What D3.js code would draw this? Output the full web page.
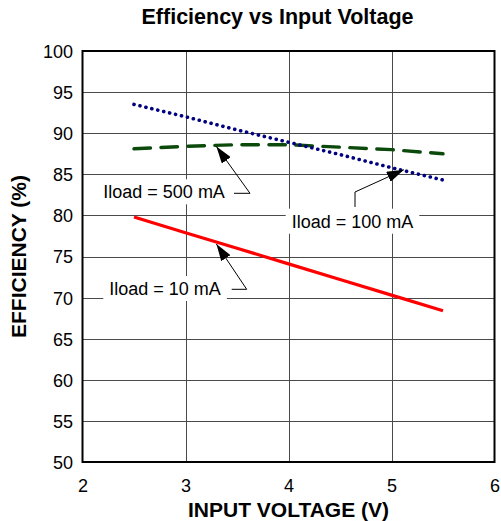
<!DOCTYPE html>
<html>
<head>
<meta charset="utf-8">
<script src="https://cdn.jsdelivr.net/npm/d3@7"></script>
<style>
  body { margin: 0; background: #fff; }
  text { font-family: Arial, "Liberation Sans", sans-serif; }
</style>
</head>
<body>
<div id="chart"></div>
<script>
// input voltage (V)
const voltage = [2.5, 3.0, 3.5, 4.0, 4.5, 5.0, 5.5];
// efficiency (%) per load current
const eff10mA  = [79.8, 77.9, 76.0, 74.1, 72.2, 70.3, 68.4];
const eff100mA = [93.5, 92.0, 90.4, 88.9, 87.4, 85.8, 84.3];
const eff500mA = [88.1, 88.4, 88.6, 88.6, 88.3, 88.0, 87.5];
const xTicks = [2, 3, 4, 5, 6];
const yTicks = [50, 55, 60, 65, 70, 75, 80, 85, 90, 95, 100];

const width = 501, height = 521;
const margin = { top: 51, right: 6.5, bottom: 59, left: 82.5 };
const innerW = width - margin.left - margin.right;
const innerH = height - margin.top - margin.bottom;

const svg = d3.select("#chart")
    .append("svg")
    .attr("width", width)
    .attr("height", height);

const x = d3.scaleLinear().domain([2, 6]).range([margin.left, margin.left + innerW]);
const y = d3.scaleLinear().domain([50, 100]).range([margin.top + innerH, margin.top]);

// Title
svg.append("text")
    .attr("x", 277.5)
    .attr("y", 23.5)
    .attr("text-anchor", "middle")
    .style("font-size", "21.5px")
    .style("font-weight", "bold")
    .text("Efficiency vs Input Voltage");

// Grid
const grid = svg.append("g");
grid.selectAll("line.h")
    .data(yTicks.slice(1, -1))
    .enter()
    .append("line")
    .attr("x1", margin.left).attr("x2", margin.left + innerW)
    .attr("y1", d => Math.round(y(d)) + 0.5).attr("y2", d => Math.round(y(d)) + 0.5)
    .attr("stroke", "#4a4a4a")
    .attr("stroke-width", 1);
grid.selectAll("line.v")
    .data(xTicks.slice(1, -1))
    .enter()
    .append("line")
    .attr("x1", d => Math.round(x(d)) + 0.5).attr("x2", d => Math.round(x(d)) + 0.5)
    .attr("y1", margin.top).attr("y2", margin.top + innerH)
    .attr("stroke", "#4a4a4a")
    .attr("stroke-width", 1);

// Axes (labels only, frame drawn below)
const xAxis = svg.append("g")
    .attr("transform", `translate(0, ${margin.top + innerH})`)
    .call(d3.axisBottom(x).tickValues(xTicks).tickSize(0).tickPadding(0).tickFormat(d3.format("d")));
xAxis.select(".domain").remove();
xAxis.selectAll("text")
    .attr("y", 29.5).attr("dy", null)
    .style("font-size", "18px")
    .style("font-family", "Arial, 'Liberation Sans', sans-serif")
    .attr("fill", "#000");

const yAxis = svg.append("g")
    .attr("transform", `translate(${margin.left}, 0)`)
    .call(d3.axisLeft(y).tickValues(yTicks).tickSize(0).tickPadding(9.5).tickFormat(d3.format("d")));
yAxis.select(".domain").remove();
yAxis.selectAll("text")
    .attr("dy", "0.36em")
    .style("font-size", "18px")
    .style("font-family", "Arial, 'Liberation Sans', sans-serif")
    .attr("fill", "#000");

// Axis titles
svg.append("text")
    .attr("x", margin.left + innerW / 2)
    .attr("y", 516.5)
    .attr("text-anchor", "middle")
    .style("font-size", "21px")
    .style("font-weight", "bold")
    .text("INPUT VOLTAGE (V)");

svg.append("text")
    .attr("transform", `translate(26, ${margin.top + innerH / 2}) rotate(-90)`)
    .attr("text-anchor", "middle")
    .style("font-size", "21px")
    .style("font-weight", "bold")
    .text("EFFICIENCY (%)");

// Series
const series = [
    { name: "10 mA", values: eff10mA, color: "#ff0000", width: 3.2, dash: null, cap: "butt" },
    { name: "500 mA", values: eff500mA, color: "#0b4a0b", width: 3.4, dash: "16.5 10.5", cap: "round" },
    { name: "100 mA", values: eff100mA, color: "#000080", width: 3.6, dash: "0.1 6", cap: "round" }
];

const line = d3.line()
    .x(d => x(d[0]))
    .y(d => y(d[1]));

svg.selectAll("path.series")
    .data(series)
    .enter()
    .append("path")
    .attr("class", "series")
    .attr("d", s => line(voltage.map((v, i) => [v, s.values[i]])))
    .attr("fill", "none")
    .attr("stroke", s => s.color)
    .attr("stroke-width", s => s.width)
    .attr("stroke-dasharray", s => s.dash)
    .attr("stroke-linecap", s => s.cap);

// Arrowhead
svg.append("defs").append("marker")
    .attr("id", "arrow")
    .attr("markerUnits", "userSpaceOnUse")
    .attr("viewBox", "0 0 17 11")
    .attr("refX", 17).attr("refY", 5.5)
    .attr("markerWidth", 17).attr("markerHeight", 11)
    .attr("orient", "auto")
    .append("path")
    .attr("d", "M0,0 L17,5.5 L0,11 Z")
    .attr("fill", "#000");

// Annotations: text position (px) and leader path ending on the curve
const notes = [
    { label: "Iload = 500 mA", tx: 103.3, ty: 198.3, pts: [[234, 193.3], [250, 193.3], [x(3.3), y(88.5) + 1]] },
    { label: "Iload = 100 mA", tx: 291.7, ty: 227.7, pts: [[355, 207], [355, 192], [x(5.12), y(85.55)]] },
    { label: "Iload = 10 mA", tx: 109.3, ty: 295, pts: [[231.7, 289.3], [246.7, 289.3], [x(3.3), y(76.76) + 2]] }
];

notes.forEach(n => {
    const g = svg.append("g");
    const bg = g.append("rect").attr("fill", "#fff");
    const t = g.append("text")
        .attr("x", n.tx)
        .attr("y", n.ty)
        .style("font-size", "18px")
        .text(n.label);
    const w = t.node().getComputedTextLength();
    bg.attr("x", n.tx - 6).attr("y", n.ty - 19).attr("width", w + 12).attr("height", 25);
    g.append("path")
        .attr("d", d3.line()(n.pts))
        .attr("fill", "none")
        .attr("stroke", "#000")
        .attr("stroke-width", 1)
        .attr("marker-end", "url(#arrow)");
});

// Plot frame
svg.append("rect")
    .attr("x", margin.left)
    .attr("y", margin.top)
    .attr("width", innerW)
    .attr("height", innerH)
    .attr("fill", "none")
    .attr("stroke", "#000")
    .attr("stroke-width", 2);
</script>
</body>
</html>
